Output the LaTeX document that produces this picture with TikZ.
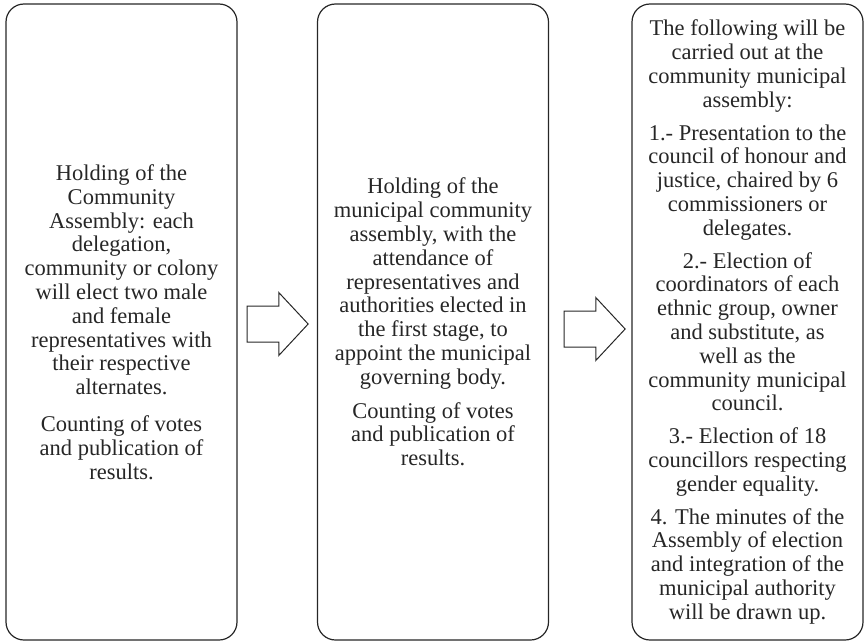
\documentclass[tikz,border=0pt]{standalone}
\usepackage{fontspec}
\setmainfont{Liberation Serif}
\usetikzlibrary{calc,shapes.arrows}

\begin{document}
\begin{tikzpicture}[x=1pt,y=-1pt,
    stagebox/.style={draw=black!85,line width=1.2pt,rounded corners=18pt,
      minimum width=231pt,minimum height=636pt,align=center,
      font=\fontsize{22.5}{23.8}\selectfont,text=black!85},
    stagearrow/.style={draw=black!85,line width=1pt,shape=single arrow,
      single arrow head extend=13.5pt,single arrow tip angle=94,
      inner xsep=0pt,inner ysep=17.5pt,minimum height=61pt}]
          \useasboundingbox (0,0) rectangle (868,642);
          \draw node[stagebox] (S1) at (121.5,322) %
          {Holding of the\\ Community\\ Assembly: each\\ delegation,\\
            community or colony\\ will elect two male\\ and female\\
            representatives with\\ their respective\\ alternates.\\[13pt]
            Counting of votes\\ and publication of\\ results.};
          \draw node[stagebox] (S2) at (433,322) %
          {Holding of the\\ municipal community\\ assembly, with the\\
            attendance of\\ representatives and\\ authorities elected in\\
            the first stage, to\\ appoint the municipal\\ governing body.\\[10pt]
            Counting of votes\\ and publication of\\ results.};
          \draw node[stagebox] (S3) at (747.5,322) %
          {The following will be\\ carried out at the\\ community municipal\\
            assembly:\\[9pt]
            1.- Presentation to the\\ council of honour and\\
            justice, chaired by 6\\ commissioners or\\ delegates.\\[9pt]
            2.- Election of\\ coordinators of each\\ ethnic group, owner\\
            and substitute, as\\ well as the\\ community municipal\\
            council.\\[9pt]
            3.- Election of 18\\ councillors respecting\\
            gender equality.\\[9pt]
            4. The minutes of the\\ Assembly of election\\
            and integration of the\\ municipal authority\\
            will be drawn up.};
          \draw node[stagearrow] (A1) at %
          ($(S1.east)!0.5!(S2.west)+(-8,2)$) {};
          \draw node[stagearrow] (A2) at %
          ($(S2.east)!0.5!(S3.west)+(-4,7)$) {};
\end{tikzpicture}
\end{document}
